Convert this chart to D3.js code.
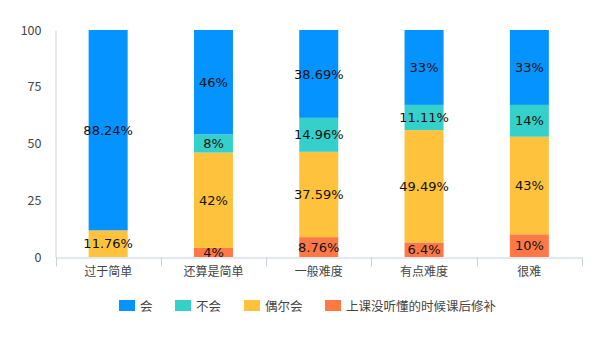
<!DOCTYPE html>
<html><head><meta charset="utf-8">
<script src="https://cdn.jsdelivr.net/npm/d3@7"></script>
<style>body{margin:0;background:#fff;} svg{display:block;}</style>
</head><body><svg id="c" width="600" height="340"></svg>
<script>
const categories = ["过于简单","还算是简单","一般难度","有点难度","很难"];
const seriesNames = ["上课没听懂的时候课后修补","偶尔会","不会","会"];
const vBuke = [0, 4, 8.76, 6.4, 10];
const vOuer = [11.76, 42, 37.59, 49.49, 43];
const vBuhui = [0, 8, 14.96, 11.11, 14];
const vHui = [88.24, 46, 38.69, 33, 33];
const labBuke = ["", "4%", "8.76%", "6.4%", "10%"];
const labOuer = ["11.76%", "42%", "37.59%", "49.49%", "43%"];
const labBuhui = ["", "8%", "14.96%", "11.11%", "14%"];
const labHui = ["88.24%", "46%", "38.69%", "33%", "33%"];
const yTicks = [0, 25, 50, 75, 100];
const legendOrder = ["会","不会","偶尔会","上课没听懂的时候课后修补"];

const colors = {"会":"#0593FF","不会":"#36D0CA","偶尔会":"#FFC23D","上课没听懂的时候课后修补":"#FF7846"};
const values = {"上课没听懂的时候课后修补":vBuke,"偶尔会":vOuer,"不会":vBuhui,"会":vHui};
const labels = {"上课没听懂的时候课后修补":labBuke,"偶尔会":labOuer,"不会":labBuhui,"会":labHui};

const svg = d3.select("#c");
const font = "'Noto Sans CJK SC', 'Noto Sans', sans-serif";
const x = d3.scaleBand().domain(categories).range([55.5, 582]).paddingInner(0).paddingOuter(0);
const y = d3.scaleLinear().domain([0,100]).range([257, 30]);
const barW = 39;

const table = categories.map((c,i)=>{const o={cat:c}; seriesNames.forEach(s=>o[s]=values[s][i]); return o;});
const stacked = d3.stack().keys(seriesNames)(table);

// axes
const gy = svg.append("g").attr("transform","translate(55.5,0)")
  .call(d3.axisLeft(y).tickValues(yTicks).tickSize(0).tickPadding(14));
gy.select(".domain").attr("stroke","#C6D1DE");
gy.selectAll("text").attr("font-family",font).attr("font-size",12.5).attr("fill","#444");

const gx = svg.append("g").attr("transform","translate(0,257.5)")
  .call(d3.axisBottom(x).tickSize(0).tickPadding(10));
gx.select(".domain").attr("stroke","#C6D1DE");
gx.selectAll("text").attr("font-family",font).attr("font-size",12).attr("fill","#444");
const edges = categories.map(c=>x(c)).concat([x.range()[1]]);
gx.selectAll(".edge").data(edges).enter().append("line")
  .attr("x1",d=>Math.round(d)+0.5).attr("x2",d=>Math.round(d)+0.5).attr("y1",0).attr("y2",9)
  .attr("stroke","#C6D1DE");

// bars
stacked.forEach(layer=>{
  const key = layer.key;
  const g = svg.append("g");
  g.selectAll("rect").data(layer).enter().append("rect")
    .attr("x",d=>x(d.data.cat)+x.bandwidth()/2-barW/2)
    .attr("width",barW)
    .attr("y",d=>y(d[1]))
    .attr("height",d=>Math.max(0,y(d[0])-y(d[1])))
    .attr("fill",colors[key]);
});
stacked.forEach(layer=>{
  const key = layer.key;
  svg.append("g").selectAll("text").data(layer).enter().append("text")
    .attr("x",d=>x(d.data.cat)+x.bandwidth()/2)
    .attr("y",d=>(y(d[0])+y(d[1]))/2)
    .attr("dy","0.36em")
    .attr("text-anchor","middle")
    .attr("font-family","'DejaVu Sans', sans-serif")
    .attr("font-size",13)
    .attr("fill","#111")
    .text((d,i)=>labels[key][i]);
});

// legend
const lx = [119, 175, 244, 325];
const lg = svg.append("g");
legendOrder.forEach((s,i)=>{
  lg.append("rect").attr("x",lx[i]).attr("y",300).attr("width",16).attr("height",11).attr("fill",colors[s]);
  lg.append("text").attr("x",lx[i]+21).attr("y",306).attr("dy","0.36em")
    .attr("font-family",font).attr("font-size",12.5).attr("fill","#444").text(s);
});
</script></body></html>
